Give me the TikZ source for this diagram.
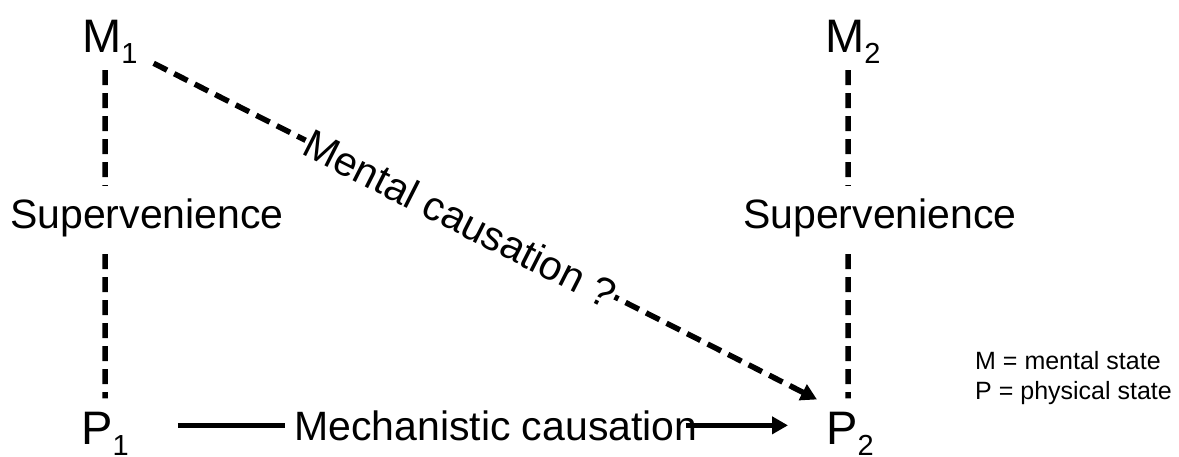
\documentclass[tikz,border=0pt]{standalone}
\usepackage{fontspec}
\setmainfont{Liberation Sans}
\usetikzlibrary{arrows.meta,backgrounds}
\newcommand\mysub[1]{\raisebox{-11pt}{\fontsize{29}{29}\selectfont #1}}
\begin{document}
\begin{tikzpicture}[x=1pt,y=-1pt,
  big/.style={font=\fontsize{47}{50}\selectfont, inner sep=0pt, anchor=base west},
  mid/.style={font=\fontsize{41}{44}\selectfont, inner sep=0pt, anchor=base west},
  supvlabel/.style={mid, fill=white, inner xsep=2pt, inner ysep=12pt},
  lbl/.style={font=\fontsize{41}{44}\selectfont, inner sep=1pt, fill=white},
  leg/.style={font=\fontsize{25}{28}\selectfont, inner sep=0pt, anchor=base west},
  supv/.style={line width=5.5pt, dash pattern=on 15pt off 8pt},
  causal/.style={line width=5pt},
  tip/.style={-{Triangle[length=16pt,width=17pt]}}]
\useasboundingbox (0,0) rectangle (1179,456);

\node[big] (M1) at (82,52) {M\mysub{1}};
\node[big] (M2) at (825,52) {M\mysub{2}};
\node[big] (P1) at (81,444) {P\mysub{1}};
\node[big] (P2) at (826,444) {P\mysub{2}};

\node[supvlabel] (S1) at (8,228) {Supervenience};
\node[supvlabel] (S2) at (741,228) {Supervenience};

\node[mid] (MC) at (294,440) {Mechanistic causation};

\node[leg] (L1) at (975,369) {M = mental state};
\node[leg] (L2) at (975,399) {P = physical state};

\begin{scope}[on background layer]
  \fill[white] (0,0) rectangle (1179,456);
  \draw[supv] ([xshift=-4.6pt,yshift=-7pt]M1.south) -- ([xshift=0.3pt,yshift=13pt]P1.north);
  \draw[supv] ([xshift=-4.6pt,yshift=-7pt]M2.south) -- ([xshift=-1.7pt,yshift=13pt]P2.north);
\end{scope}

\draw[causal, shorten <=49pt, shorten >=9pt] (P1.east |- MC.west) -- (MC.west);
\draw[causal, tip, shorten >=38pt] ([xshift=-12pt]MC.east) -- (P2.west |- MC.east);

\draw[supv, tip] ([xshift=16pt,yshift=-22pt]M1.east) --
  node[lbl, sloped, pos=0.462] {Mental causation ?}
  ([xshift=-9pt,yshift=12pt]P2.north west);
\end{tikzpicture}
\end{document}
